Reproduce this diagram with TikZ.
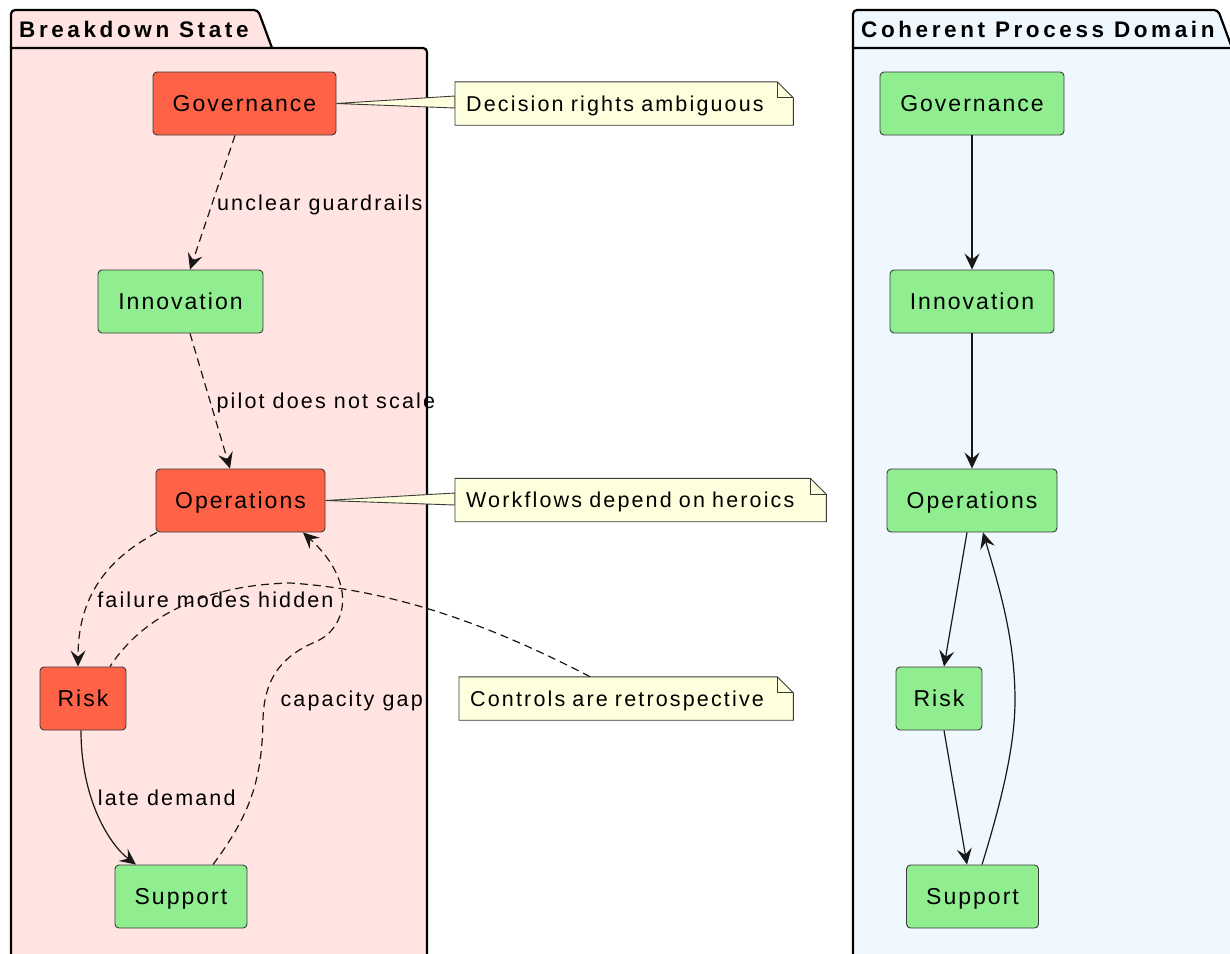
\documentclass[tikz,border=0pt]{standalone}
\usepackage{fontspec}
\setmainfont{Liberation Sans}
\newfontfamily\nodefont[LetterSpace=8.8]{Liberation Sans}
\newfontfamily\notefont[LetterSpace=10]{Liberation Sans}
\newfontfamily\titlefont[LetterSpace=16]{Liberation Sans}
\usetikzlibrary{arrows.meta}
\definecolor{pinkc}{HTML}{FFE4E1}
\definecolor{bluec}{HTML}{F0F8FF}
\definecolor{tomatoc}{HTML}{FF6347}
\definecolor{greenc}{HTML}{90EE90}
\definecolor{notec}{HTML}{FEFFDD}
\definecolor{linec}{HTML}{181818}
\definecolor{borderc}{HTML}{3A3A3A}
\pgfdeclarelayer{pkg}
\pgfdeclarelayer{notes}
\pgfsetlayers{pkg,notes,main}
\tikzset{
  box/.style={rectangle, rounded corners=4pt, draw=borderc, line width=0.9pt,
    minimum height=63pt, inner sep=0pt, text=black,
    text height=16.5pt, text depth=0pt,
    font=\nodefont\fontsize{23}{27}\selectfont},
  redbox/.style={box, fill=tomatoc},
  grnbox/.style={box, fill=greenc},
  lbl/.style={font=\notefont\fontsize{21.5}{26}\selectfont, inner sep=1pt, text=black,
    text height=15pt, text depth=0pt},
  notebox/.style={rectangle, minimum height=43pt, inner xsep=11pt, inner ysep=0pt,
    align=left, text=black, font=\notefont\fontsize{21.5}{26}\selectfont,
    text height=15pt, text depth=0pt},
  noteline/.style={draw=borderc, fill=notec, line width=0.9pt},
  pkgline/.style={draw=black, line width=2.2pt},
  conn/.style={draw=linec, line width=1.2pt,
    -{Stealth[length=16pt,width=15pt,inset=6pt]}},
  dconn/.style={conn, dash pattern=on 8pt off 5pt},
  ttl/.style={font=\titlefont\bfseries\fontsize{22.5}{26}\selectfont, inner sep=0pt, text=black, anchor=west}
}
\begin{document}
\begin{tikzpicture}[x=1pt,y=-1pt]
\useasboundingbox (0,0) rectangle (1230,953);
\clip (0,0) rectangle (1230,953);

% packages
\begin{pgfonlayer}{pkg}
\fill[white] (0,0) rectangle (1230,953);
\draw[pkgline, fill=pinkc, rounded corners=4pt] (11,48) -- (11,10) -- (258,10) -- (272,48);
\draw[pkgline, fill=pinkc] (11,1000) -- (11,48) -- (272,48) [rounded corners=4pt] -- (427,48) -- (427,1000);
\draw[pkgline, fill=bluec, rounded corners=4pt] (853,48) -- (853,10) -- (1218,10) -- (1232,48);
\draw[pkgline, fill=bluec] (853,1000) -- (853,48) -- (1232,48) [rounded corners=4pt] -- (1245,48) -- (1245,1000);
\end{pgfonlayer}
\node[ttl] (t1) at (19,29) {Breakdown State};
\node[ttl] (t2) at (861,29) {Coherent Process Domain};

% left nodes
\node[redbox, minimum width=183pt] (g1) at (244.5,103.5) {Governance};
\node[grnbox, minimum width=165pt] (i1) at (180.5,301.5) {Innovation};
\node[redbox, minimum width=169pt] (o1) at (240.5,500.5) {Operations};
\node[redbox, minimum width=86pt] (r1) at (83,698.5) {Risk};
\node[grnbox, minimum width=132pt] (s1) at (181,896.5) {Support};

% right nodes
\node[grnbox, minimum width=184pt] (g2) at (972,103.5) {Governance};
\node[grnbox, minimum width=164pt] (i2) at (972,301.5) {Innovation};
\node[grnbox, minimum width=170pt] (o2) at (972,500.5) {Operations};
\node[grnbox, minimum width=86pt] (r2) at (939,698.5) {Risk};
\node[grnbox, minimum width=132pt] (s2) at (972.5,896.5) {Support};

% notes
\node[notebox, anchor=west, text width=316pt] (n1) at (455,103.5) {Decision rights ambiguous};
\node[notebox, anchor=west, text width=349pt] (n2) at (455,500) {Workflows depend on heroics};
\node[notebox, anchor=west, text width=312pt] (n3) at (459,698.5) {Controls are retrospective};

\begin{pgfonlayer}{notes}
\draw[noteline] (g1.east) -- ([yshift=7.5pt]n1.west) -- ([yshift=-4.5pt]n1.west) -- cycle;
\draw[noteline] (o1.east) -- ([yshift=7pt]n2.west) -- ([yshift=-5pt]n2.west) -- cycle;
\foreach \n in {n1,n2,n3}{
  \draw[noteline] (\n.north west) -- ([xshift=-16pt]\n.north east) -- ([yshift=-16pt]\n.north east)
     -- (\n.south east) -- (\n.south west) -- cycle;
  \draw[draw=borderc, line width=0.9pt] ([xshift=-16pt]\n.north east) |- ([yshift=-16pt]\n.north east);
}
\end{pgfonlayer}

% left connectors
\draw[dconn] ([xshift=-9.5pt]g1.south) -- node[lbl, pos=0.5, anchor=west, xshift=3pt]{unclear guardrails} ([xshift=9.5pt]i1.north);
\draw[dconn] ([xshift=9.5pt]i1.south) -- node[lbl, pos=0.5, anchor=west, xshift=5pt]{pilot does not scale} ([xshift=-10.5pt]o1.north);
\draw[dconn] ([xshift=-83.5pt]o1.south) .. controls (95,565) and (78,610) .. node[lbl, pos=0.5, anchor=west, xshift=1.5pt, yshift=-9.5pt]{failure modes hidden} ([xshift=-5pt]r1.north);
\draw[conn] ([xshift=-2pt]r1.south) .. controls (81,800) and (110,845) .. node[lbl, pos=0.5, anchor=west, xshift=-2.5pt, yshift=18pt]{late demand} ([xshift=-45pt]s1.north);
\draw[dconn] ([xshift=32pt]s1.north) .. controls (250,815) and (262,780) .. (263,720)
   node[lbl, anchor=west, xshift=16pt, yshift=21pt]{capacity gap}
   .. controls (264,675) and (285,655) .. (315,642)
   .. controls (345,630) and (360,585) .. ([xshift=62.5pt]o1.south);
\draw[draw=linec, line width=1.2pt, dash pattern=on 8pt off 5pt] ([xshift=-36pt]n3.north) .. controls (500,630) and (400,590) .. (290,583) .. controls (200,585) and (140,620) .. ([xshift=27pt]r1.north);

% right connectors
\draw[conn] (g2.south) -- (i2.north);
\draw[conn] (i2.south) -- (o2.north);
\draw[conn] ([xshift=-5pt]o2.south) -- ([xshift=5pt]r2.north);
\draw[conn] ([xshift=5pt]r2.south) -- ([xshift=-5.5pt]s2.north);
\draw[conn] ([xshift=9.5pt]s2.north) .. controls (1005,790) and (1015,740) .. (1015,700)
   .. controls (1015,640) and (1000,590) .. ([xshift=11pt]o2.south);
\end{tikzpicture}
\end{document}
